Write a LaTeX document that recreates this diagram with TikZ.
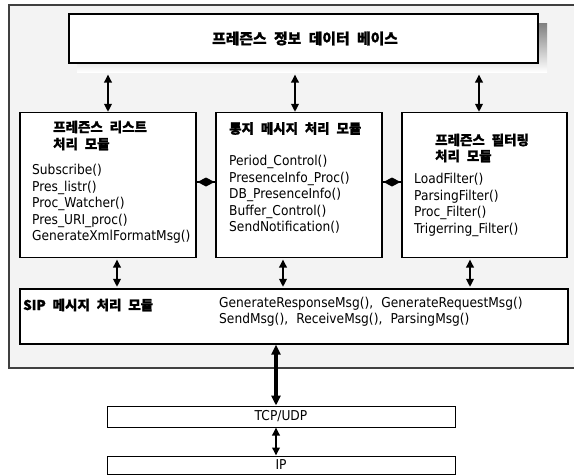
\documentclass[tikz,border=0pt]{standalone}
\usepackage{fontspec}
\setmainfont[FakeStretch=0.9]{DejaVu Sans}
\newfontfamily\kr[WordSpace=2.2,BoldFeatures={FakeBold=1}]{Noto Sans CJK KR}
\usetikzlibrary{arrows.meta}
\definecolor{panel}{RGB}{243,243,243}
\definecolor{shade}{RGB}{178,178,178}
\begin{document}
\begin{tikzpicture}[x=1pt,y=-1pt,
  box/.style={draw=black,line width=1.3pt,fill=white,inner sep=0pt},
  thinbox/.style={draw=black,line width=1pt,fill=white,inner sep=0pt,font=\fontsize{13.6}{16}\selectfont},
  fn/.style={inner sep=0pt,anchor=base west,font=\fontsize{13.6}{16}\selectfont},
  ktitle/.style={inner sep=0pt,anchor=west,font=\kr\bfseries\fontsize{13.5}{16}\selectfont},
  biarr/.style={line width=1.8pt,{Triangle[length=8pt,width=7.5pt]}-{Triangle[length=8pt,width=7.5pt]}},
  bigarr/.style={line width=3.5pt,{Triangle[length=10pt,width=9pt]}-{Triangle[length=10pt,width=9pt]}},
  link/.style={line width=1.4pt}]
\useasboundingbox (0,0) rectangle (574,475);
\clip (0,0) rectangle (574,475);
\fill[white] (0,0) rectangle (574,475);
% panel
\draw[fill=panel,draw=black!75,line width=1.3pt] (9,5) rectangle (585,368);
% database box with shadow
\fill[shade] (77,23) rectangle (547,72);
\node[box,minimum width=469pt,minimum height=49pt] (db) at (303.5,38.5) {};
\node[inner sep=0pt,font=\kr\bfseries\fontsize{14.8}{16}\selectfont] (dbt) at (305,38.5) {프레즌스 정보 데이터 베이스};
% module boxes
\node[box,minimum width=176pt,minimum height=145pt] (lbox) at (108,185) {};
\node[box,minimum width=166pt,minimum height=145pt] (mbox) at (299,185) {};
\node[box,minimum width=165pt,minimum height=145pt] (rbox) at (484.5,185) {};
\node[box,minimum width=548pt,minimum height=55pt] (sip) at (294,316.5) {};
\node[thinbox,minimum width=348pt,minimum height=21pt] (tcp) at (281,416.5) {TCP/UDP};
\node[thinbox,minimum width=348pt,minimum height=18pt] (ip) at (281,465) {IP};
% titles
\node[ktitle] (lt1) at (53,127) {프레즌스 리스트};
\node[ktitle] (lt2) at (53,144) {처리 모듈};
\node[ktitle] (mt) at (229,128.5) {통지 메시지 처리 모듈};
\node[ktitle] (rt1) at (435,140) {프레즌스 필터링};
\node[ktitle] (rt2) at (435,156) {처리 모듈};
\node[ktitle] (st) at (23,305) {SIP 메시지 처리 모듈};
% function lists
\foreach \t [count=\i] in {Subscribe(),Pres\_listr(),Proc\_Watcher(),Pres\_URI\_proc(),GenerateXmlFormatMsg()}
  \node[fn] (lf\i) at (32,{174.5+16.5*(\i-1)}) {\t};
\foreach \t [count=\i] in {Period\_Control(),PresenceInfo\_Proc(),DB\_PresenceInfo(),Buffer\_Control(),SendNotification()}
  \node[fn] (mf\i) at (229,{165.5+16.5*(\i-1)}) {\t};
\foreach \t [count=\i] in {LoadFilter(),ParsingFilter(),Proc\_Filter(),Trigerring\_Filter()}
  \node[fn] (rf\i) at (414,{183.5+16.5*(\i-1)}) {\t};
\node[fn] (sf1) at (219,307.5) {GenerateResponseMsg(),\hspace{0.6em}GenerateRequestMsg()};
\node[fn] (sf2) at (219,323.5) {SendMsg(),\hspace{0.6em}ReceiveMsg(),\hspace{0.6em}ParsingMsg()};
% arrows DB -> modules
\coordinate (a1) at (108,74.5);
\coordinate (a2) at (295,74.5);
\coordinate (a3) at (479,74.5);
\draw[biarr] (a1) -- (a1 |- lbox.north);
\draw[biarr] (a2) -- (a2 |- mbox.north);
\draw[biarr] (a3) -- (a3 |- rbox.north);
% arrows modules -> SIP
\coordinate (b1) at (117,259.5);
\coordinate (b2) at (283,259.5);
\coordinate (b3) at (470,259.5);
\draw[biarr,shorten >=1.5pt] (b1) -- (b1 |- sip.north);
\draw[biarr,shorten >=1.5pt] (b2) -- (b2 |- sip.north);
\draw[biarr,shorten >=1.5pt] (b3) -- (b3 |- sip.north);
% diamond links
\coordinate (d1) at (196,182);
\coordinate (d2) at (382,182);
\draw[link] (d1 -| lbox.east) -- (d1 -| mbox.west) coordinate[midway] (dm1);
\draw[link] (d2 -| mbox.east) -- (d2 -| rbox.west) coordinate[midway] (dm2);
\foreach \d in {dm1,dm2}
  \fill ([xshift=-8.5pt]\d) -- ([yshift=4.5pt]\d) -- ([xshift=8.5pt]\d) -- ([yshift=-4.5pt]\d) -- cycle;
% SIP -> TCP/UDP -> IP
\coordinate (c1) at (276,344);
\draw[bigarr] (c1 |- sip.south) -- (c1 |- tcp.north);
\draw[biarr] (c1 |- tcp.south) -- (c1 |- ip.north);
\end{tikzpicture}
\end{document}
